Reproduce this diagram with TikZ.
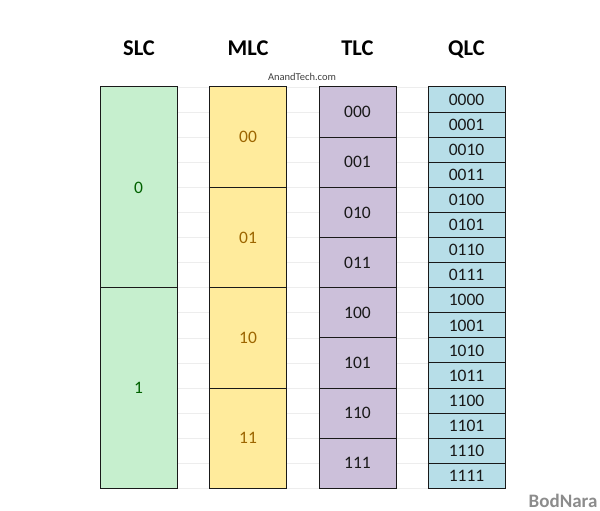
\documentclass[tikz,border=0pt]{standalone}
\usepackage{fontspec}
\setmainfont{Carlito}
\usetikzlibrary{positioning}
\definecolor{slcgreen}{HTML}{C6EFCE}
\definecolor{mlcyellow}{HTML}{FFEB9C}
\definecolor{tlcpurple}{HTML}{CCC0DA}
\definecolor{qlcblue}{HTML}{B7DEE8}
\definecolor{gridgray}{HTML}{EDEDED}
\definecolor{slctext}{HTML}{006100}
\definecolor{mlctext}{HTML}{9C6500}
\tikzset{
    cell/.style={draw=black!90, line width=1pt, minimum width=77pt, inner sep=0pt, outer sep=0pt, anchor=north west, font=\fontsize{17.5}{20}\selectfont, text depth=0pt},
    title/.style={font=\fontsize{22.5}{26}\selectfont\bfseries, text=black, anchor=base},
}
\begin{document}
\begin{tikzpicture}[x=1pt, y=-1pt]
    \useasboundingbox (0,0) rectangle (600,511);
    \def\rowh{25.09}

    % Sheet lines between the columns
    \foreach \i in {0,...,16} {
        \draw[gridgray, line width=0.8pt] (177,87+\i*\rowh) -- (428,87+\i*\rowh);
    }

    % SLC column
    \foreach \bits [count=\i from 0] in {0,1} {
        \node[cell, fill=slcgreen, text=slctext, minimum height=8*\rowh*1pt] (slc\bits) at (100,87+\i*8*\rowh) {\bits};
    }

    % MLC column
    \foreach \bits [count=\i from 0] in {00,01,10,11} {
        \node[cell, fill=mlcyellow, text=mlctext, minimum height=4*\rowh*1pt] (mlc\bits) at (209.5,87+\i*4*\rowh) {\bits};
    }

    % TLC column
    \foreach \bits [count=\i from 0] in {000,001,010,011,100,101,110,111} {
        \node[cell, fill=tlcpurple, text=black!90, minimum height=2*\rowh*1pt] (tlc\bits) at (319,87+\i*2*\rowh) {\bits};
    }

    % QLC column
    \foreach \bits [count=\i from 0] in {0000,0001,0010,0011,0100,0101,0110,0111,1000,1001,1010,1011,1100,1101,1110,1111} {
        \node[cell, fill=qlcblue, text=black!90, minimum height=\rowh*1pt] (qlc\bits) at (428,87+\i*\rowh) {\bits};
    }

    % Column titles
    \node[title] (slctitle) at (139,56) {SLC};
    \node[title] (mlctitle) at (248,56) {MLC};
    \node[title] (tlctitle) at (357.5,56) {TLC};
    \node[title] (qlctitle) at (466.5,56) {QLC};

    % Source and watermark
    \node[font=\fontsize{10.5}{13}\selectfont, text=black!75] (source) at (302,77) {AnandTech.com};
    \node[font=\fontsize{19}{22}\selectfont\bfseries, text=black!45] (bodnara) at (563,501) {BodNara};
\end{tikzpicture}
\end{document}
